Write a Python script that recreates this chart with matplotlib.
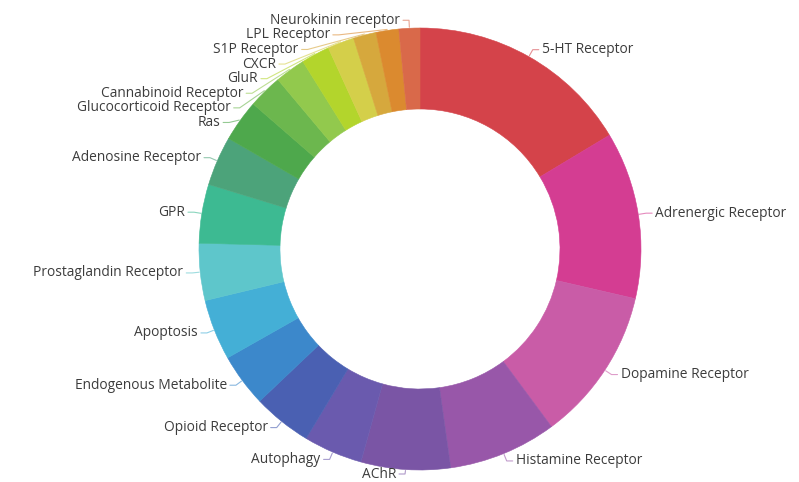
import numpy as np
import matplotlib.pyplot as plt

# slice data, clockwise from 12 o'clock
labels = ['5-HT Receptor', 'Adrenergic Receptor', 'Dopamine Receptor', 'Histamine Receptor',
          'AChR', 'Autophagy', 'Opioid Receptor', 'Endogenous Metabolite', 'Apoptosis',
          'Prostaglandin Receptor', 'GPR', 'Adenosine Receptor', 'Ras',
          'Glucocorticoid Receptor', 'Cannabinoid Receptor', 'GluR', 'CXCR',
          'S1P Receptor', 'LPL Receptor', 'Neurokinin receptor']
values = [118, 88, 81, 57, 47, 31, 31, 28, 32, 30, 31, 26, 22, 18, 16, 15, 14, 12, 12, 11]
colors = ['#d4434a', '#d43d92', '#c95ca7', '#9857a9', '#7a55a5', '#6a5aae', '#4a60b2',
          '#3c88cb', '#44afd6', '#5ec6cb', '#3dba92', '#4ca37a', '#4ea84c', '#6cb74e',
          '#92c94d', '#b3d52c', '#d4cf4a', '#d6a83d', '#db8a2f', '#d9694a']

W, H = 799, 482
CX, CY = 420, 249        # centre in pixel coords (y from top)
R_OUT, R_IN = 221, 140

fig = plt.figure(figsize=(W / 100, H / 100), dpi=100)
ax = fig.add_axes([0, 0, 1, 1])

wedges, _ = ax.pie(values, colors=colors, startangle=90, counterclock=False,
                   center=(CX, H - CY), radius=R_OUT,
                   wedgeprops=dict(width=R_OUT - R_IN, linewidth=0.4))
for w, c in zip(wedges, colors):
    w.set_edgecolor(c)
ax.set_xlim(0, W)
ax.set_ylim(0, H)
ax.set_aspect('equal')
ax.axis('off')

# label placement, echarts-like: anchor just outside ring, push overlapping left labels down
frac = np.array(values) / np.sum(values)
mid = (np.cumsum(frac) - frac / 2) * 360
r_lab = R_OUT + 8
items = []
for i, a in enumerate(mid):
    t = np.radians(a)
    x = CX + r_lab * np.sin(t)
    y = CY - r_lab * np.cos(t)
    items.append(dict(i=i, t=t, x=x, y=y, right=np.sin(t) >= 0))

gap = 14.6
for side in (True, False):
    grp = sorted([d for d in items if d['right'] == side], key=lambda d: d['y'])
    prev = None
    for d in grp:
        if prev is not None and d['y'] < prev + gap:
            d['y'] = prev + gap
            dy = d['y'] - CY
            if abs(dy) < r_lab:
                dx = np.sqrt(r_lab ** 2 - dy ** 2)
                d['x'] = CX + dx if side else CX - dx
        prev = d['y']

for d in items:
    i, t = d['i'], d['t']
    sgn = 1 if d['right'] else -1
    x0 = CX + (R_OUT + 1) * np.sin(t)
    y0 = CY - (R_OUT + 1) * np.cos(t)
    xs = [x0, d['x'], d['x'] + sgn * 6]
    ys = [y0, min(d['y'], 474), min(d['y'], 474)]
    ax.plot(xs, [H - v for v in ys], color=colors[i], lw=0.8, alpha=0.6,
            solid_capstyle='round')
    ax.text(d['x'] + sgn * 9, H - min(d['y'], 474), labels[i],
            ha='left' if d['right'] else 'right', va='center', fontsize=9.9,
            color='#3c3c3c', family=['Open Sans', 'DejaVu Sans'])

fig.savefig('out.png', dpi=100)
